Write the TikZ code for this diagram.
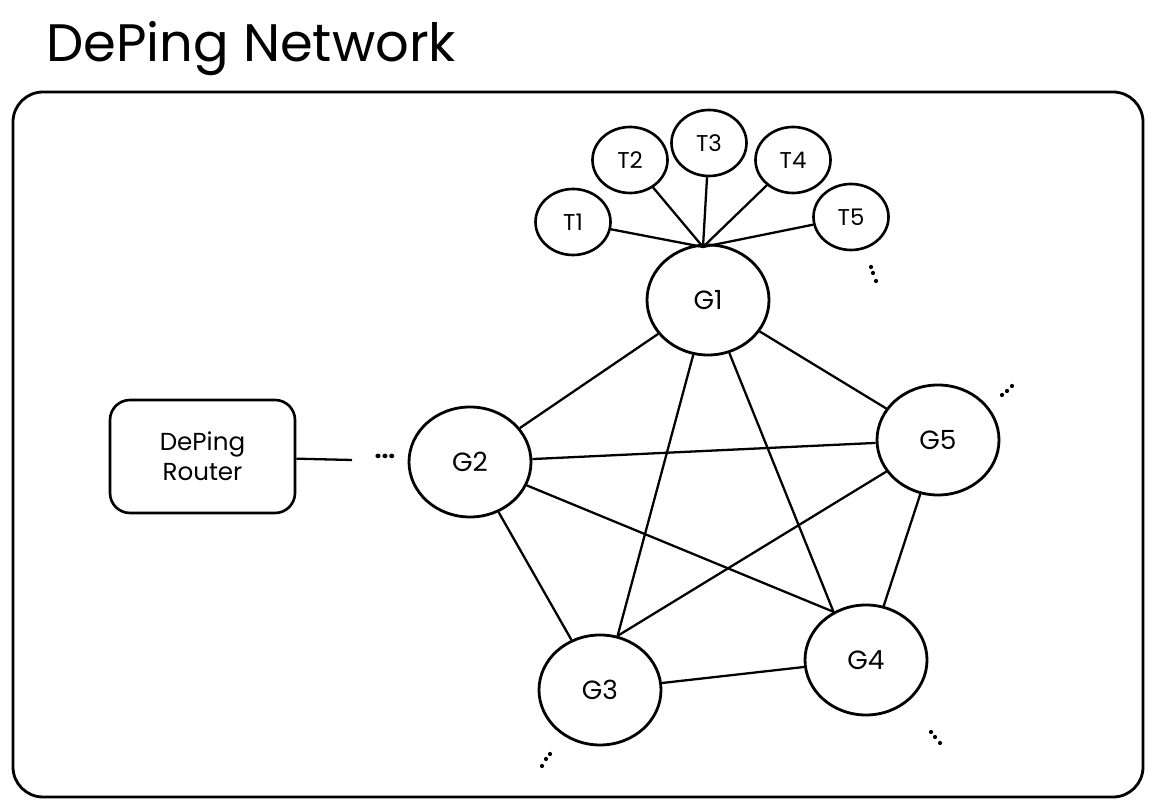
\documentclass[tikz,border=0pt]{standalone}
\usepackage{fontspec}
\setmainfont{Poppins}
\usetikzlibrary{shapes.geometric}

\begin{document}
\begin{tikzpicture}[
        gnode/.style={ellipse, draw, line width=1.6pt, minimum width=2.44cm, minimum height=2.2cm, font=\fontsize{15}{18}\selectfont},
        tnode/.style={ellipse, draw, line width=1.5pt, minimum width=1.5cm, minimum height=1.32cm, font=\fontsize{13}{16}\selectfont},
        link/.style={line width=1.3pt}
    ]
        \useasboundingbox (0,0) rectangle (23.12,16.2);
        % Title and frame
        \node[anchor=west, font=\fontsize{30}{36}\selectfont] (title) at (0.8,15.22) {DePing Network};
        \draw[line width=1.6pt, rounded corners=0.6cm] (0.26,0.26) rectangle (22.86,14.36);

        % Gateways
        \node[gnode] (g1) at (14.16,10.2) {G1};
        \node[gnode] (g2) at (9.4,6.96) {G2};
        \node[gnode] (g3) at (12.0,2.4) {G3};
        \node[gnode] (g4) at (17.32,3.0) {G4};
        \node[gnode] (g5) at (18.76,7.4) {G5};

        % Targets around G1
        \node[tnode] (t1) at (11.46,11.76) {T1};
        \node[tnode] (t2) at (12.6,13.0) {T2};
        \node[tnode] (t3) at (14.18,13.34) {T3};
        \node[tnode] (t4) at (15.86,13.0) {T4};
        \node[tnode] (t5) at (17.02,11.86) {T5};
        \coordinate (hub) at (14.06,11.26);
        \foreach \t in {t1,t2,t3,t4,t5}
            \draw[link] (\t) -- (hub);

        % Mesh between gateways
        \draw[link] (g1) -- (g2);
        \draw[link] (g1) -- (g3.72);
        \draw[link] (g1) -- (g4.124);
        \draw[link] (g1) -- (g5);
        \draw[link] (g2) -- (g3);
        \draw[link] (g2) -- (g4.124);
        \draw[link] (g2) -- (g5);
        \draw[link] (g3) -- (g4);
        \draw[link] (g5) -- (g3.72);
        \draw[link] (g4) -- (g5);

        % Router
        \node[draw, line width=1.5pt, rounded corners=0.4cm, minimum width=3.7cm, minimum height=2.26cm, align=center, font=\fontsize{14}{17}\selectfont] (router) at (4.05,7.07) {DePing\\Router};
        \coordinate (routerend) at (7.04,7.0);
        \draw[link] (router) -- (routerend);
        \node[font=\fontsize{14}{16}\selectfont\bfseries] (rdots) at (7.7,7.08) {...};

        % More dots
        \fill[black] (17.42,10.86) circle(1.2pt);
        \fill[black] (17.46,10.74) circle(1.2pt);
        \fill[black] (17.52,10.58) circle(1.2pt);
        \fill[black] (20.04,8.3) circle(1.2pt);
        \fill[black] (20.14,8.38) circle(1.2pt);
        \fill[black] (20.24,8.48) circle(1.2pt);
        \fill[black] (18.62,1.56) circle(1.2pt);
        \fill[black] (18.7,1.46) circle(1.2pt);
        \fill[black] (18.8,1.34) circle(1.2pt);
        \fill[black] (11.0,1.12) circle(1.2pt);
        \fill[black] (10.92,1.02) circle(1.2pt);
        \fill[black] (10.84,0.88) circle(1.2pt);
\end{tikzpicture}
\end{document}
